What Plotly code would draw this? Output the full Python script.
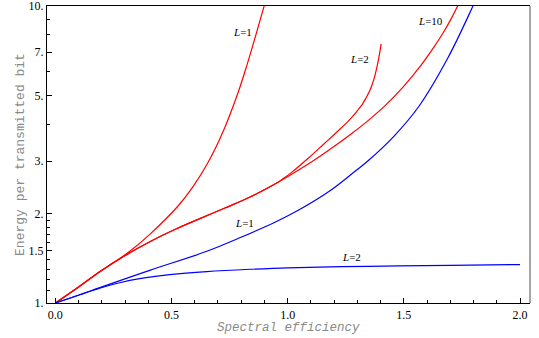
import plotly.graph_objects as go

# ---- data ----
red_L1_x = [0.0, 0.1047, 0.1909, 0.2556, 0.3203, 0.4065, 0.5272, 0.5918, 0.6565, 0.7211, 0.7858, 0.8246, 0.8634, 0.9022, 0.9323]
red_L1_y = [1.0, 1.139, 1.274, 1.376, 1.493, 1.703, 2.117, 2.461, 2.965, 3.764, 5.093, 6.322, 8.013, 10.23, 12.39]

red_L2_x = [0.0, 0.1047, 0.1909, 0.2987, 0.4065, 0.5142, 0.6220, 0.7297, 0.8375, 0.9453, 0.9797, 1.0142,
            1.0487, 1.0832, 1.1177, 1.1522, 1.1866, 1.2211, 1.2556, 1.2815, 1.3030, 1.3203, 1.3375,
            1.3526, 1.3655, 1.3763, 1.3871, 1.3957, 1.4022]
red_L2_y = [1.0, 1.139, 1.274, 1.442, 1.607, 1.767, 1.924, 2.088, 2.274, 2.515, 2.620, 2.742,
            2.886, 3.047, 3.222, 3.412, 3.608, 3.823, 4.058, 4.268, 4.472, 4.656, 4.908,
            5.170, 5.493, 5.867, 6.389, 6.931, 7.460]

red_L10_x = [0.0, 0.1047, 0.1909, 0.2987, 0.4065, 0.5142, 0.6220, 0.7297, 0.8375, 0.9453, 1.0155, 1.0746,
             1.1392, 1.2112, 1.2772, 1.3461, 1.4181, 1.4983, 1.5759, 1.6263, 1.6707, 1.7039, 1.7341, 1.7642]
red_L10_y = [1.0, 1.139, 1.274, 1.442, 1.607, 1.767, 1.924, 2.088, 2.274, 2.515, 2.706, 2.891,
             3.121, 3.418, 3.730, 4.113, 4.609, 5.355, 6.350, 7.211, 8.162, 9.066, 10.10, 11.38]

blue_L1_x = [0.0, 0.105, 0.191, 0.406, 0.652, 0.799, 0.945, 1.057, 1.182, 1.290, 1.346, 1.461, 1.565, 1.691, 1.799, 1.829]
blue_L1_y = [1.0, 1.066, 1.127, 1.288, 1.493, 1.664, 1.870, 2.076, 2.387, 2.776, 3.012, 3.670, 4.596, 6.72, 10.05, 11.3]

blue_L2_x = [0.0, 0.105, 0.191, 0.277, 0.363, 0.493, 0.652, 0.838, 1.0, 1.346, 1.699, 2.0]
blue_L2_y = [1.0, 1.066, 1.121, 1.170, 1.208, 1.246, 1.276, 1.299, 1.314, 1.329, 1.339, 1.347]

y_tick_vals = [1, 1.5, 2, 3, 5, 7, 10]
y_tick_text = ["1.", "1.5", "2.", "3.", "5.", "7.", "10."]
y_minor_vals = [1.1, 1.2, 1.3, 1.4, 1.6, 1.7, 1.8, 1.9, 4, 6, 8, 9]
x_tick_vals = [0, 0.5, 1.0, 1.5, 2.0]
x_tick_text = ["0.0", "0.5", "1.0", "1.5", "2.0"]
x_minor_vals = [0.1, 0.2, 0.3, 0.4, 0.6, 0.7, 0.8, 0.9, 1.1, 1.2, 1.3, 1.4, 1.6, 1.7, 1.8, 1.9]

label_texts = ["<i>L</i>=1", "<i>L</i>=2", "<i>L</i>=10", "<i>L</i>=1", "<i>L</i>=2"]
x_title = "Spectral efficiency"
y_title = "Energy per transmitted bit"

RED = "#ff0000"
BLUE = "#0000ff"

fig = go.Figure()
for xs, ys, c in [(red_L1_x, red_L1_y, RED), (red_L2_x, red_L2_y, RED), (red_L10_x, red_L10_y, RED),
                  (blue_L1_x, blue_L1_y, BLUE), (blue_L2_x, blue_L2_y, BLUE)]:
    fig.add_trace(go.Scatter(x=xs, y=ys, mode="lines", line=dict(color=c, width=1.2, shape="spline", smoothing=1.0),
                             showlegend=False, hoverinfo="skip"))

label_pos = [(0.807, 0.911), (1.311, 0.8205), (1.613, 0.9485), (0.816, 0.2694), (1.274, 0.1539)]
for t, (lx, ly) in zip(label_texts, label_pos):
    fig.add_annotation(x=lx, y=ly, xref="x", yref="y", text=t, showarrow=False,
                       font=dict(family="Liberation Serif", size=11, color="black"))

title_font = dict(family="Liberation Mono", color="#8a8a8a")
fig.add_annotation(x=-0.055, y=0.5, xref="paper", yref="paper", text=y_title, textangle=-90,
                   showarrow=False, xanchor="center", yanchor="middle", font=dict(size=13, **title_font))
fig.add_annotation(x=0.5, y=-0.085, xref="paper", yref="paper", text="<i>" + x_title + "</i>",
                   showarrow=False, xanchor="center", yanchor="middle", font=dict(size=12.5, **title_font))

fig.add_shape(type="line", xref="paper", yref="paper", x0=1, x1=1, y0=0, y1=1,
              line=dict(color="#888888", width=1.5))

fig.update_xaxes(range=[-0.036, 2.043], tickvals=x_tick_vals, ticktext=x_tick_text,
                 ticks="inside", ticklen=5, tickcolor="black", tickwidth=1,
                 minor=dict(tickvals=x_minor_vals, ticks="inside", ticklen=3, tickcolor="black"),
                 showline=True, linecolor="black", linewidth=1.3, mirror=True,
                 showgrid=False, zeroline=False, automargin=False, ticklabeloverflow="allow",
                 tickfont=dict(family="Liberation Serif", size=12, color="black"))
fig.update_yaxes(type="log", range=[0, 1], tickvals=y_tick_vals, ticktext=y_tick_text,
                 ticks="inside", ticklen=5, tickcolor="black", tickwidth=1,
                 minor=dict(tickvals=y_minor_vals, ticks="inside", ticklen=3, tickcolor="black"),
                 showline=True, linecolor="black", linewidth=1.3,
                 showgrid=False, zeroline=False, automargin=False, ticklabeloverflow="allow",
                 tickfont=dict(family="Liberation Serif", size=12, color="black"))

fig.update_layout(width=539, height=338, margin=dict(l=47, r=9, t=6, b=35),
                  plot_bgcolor="white", paper_bgcolor="white")

fig.write_html("out.html", config={"displayModeBar": False},
               post_script="document.body.style.margin='0';document.body.style.padding='0';")
